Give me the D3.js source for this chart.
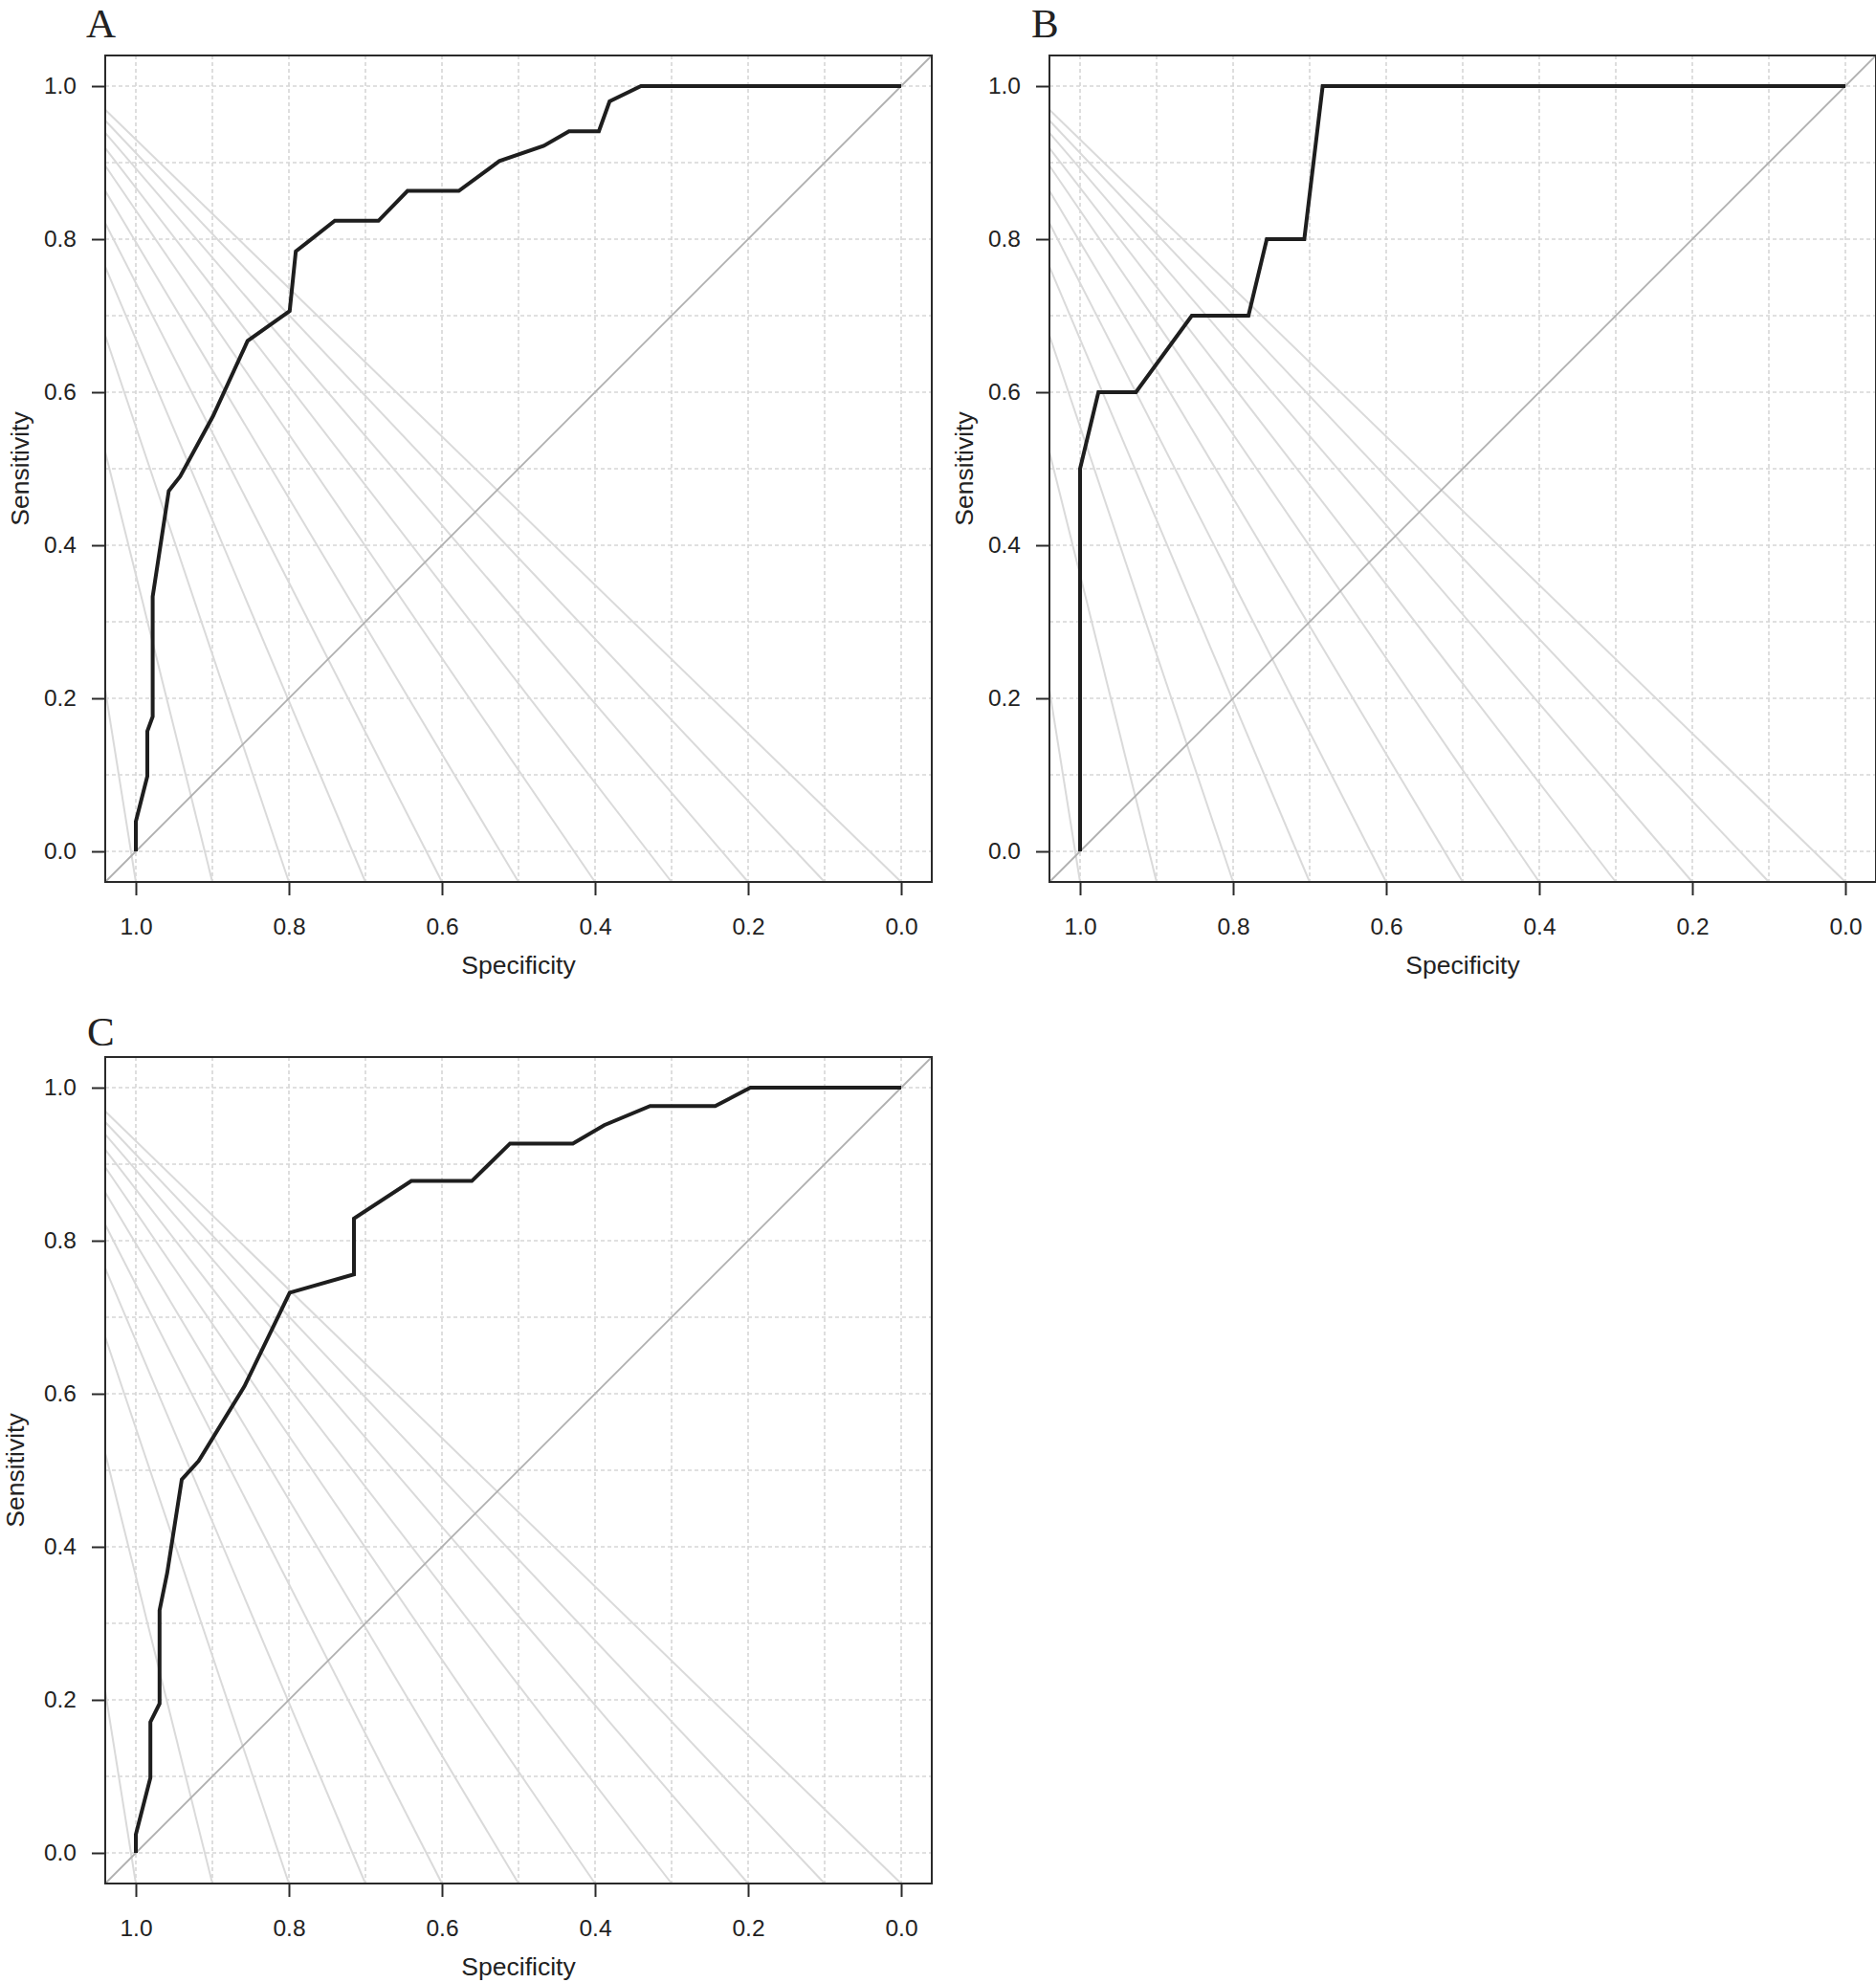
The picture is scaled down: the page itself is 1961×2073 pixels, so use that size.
<!DOCTYPE html>
<html>
<head>
<meta charset="utf-8">
<script src="https://cdnjs.cloudflare.com/ajax/libs/d3/7.8.5/d3.min.js"></script>
<style>
body { margin: 0; background: #fff; }
text { font-family: "Liberation Sans", Arial, sans-serif; fill: #222; }
</style>
</head>
<body>
<script>
// page + plot setup
var width = 1961;
var height = 2073;
var plotSize = 864;

// ROC curve A (specificity, sensitivity)
var specA = [1.0, 1.0, 0.985, 0.985, 0.978, 0.978, 0.957, 0.942, 0.899, 0.854, 0.799, 0.791, 0.740, 0.683, 0.645, 0.578, 0.525, 0.467, 0.434, 0.395, 0.381, 0.340, 0.0];
var sensA = [0.0, 0.039, 0.098, 0.157, 0.176, 0.333, 0.471, 0.490, 0.569, 0.667, 0.706, 0.784, 0.824, 0.824, 0.863, 0.863, 0.902, 0.922, 0.941, 0.941, 0.980, 1.0, 1.0];

// ROC curve B
var specB = [1.0, 1.0, 0.976, 0.927, 0.854, 0.780, 0.756, 0.707, 0.683, 0.0];
var sensB = [0.0, 0.5, 0.6, 0.6, 0.7, 0.7, 0.8, 0.8, 1.0, 1.0];

// ROC curve C
var specC = [1.0, 1.0, 0.981, 0.981, 0.969, 0.969, 0.959, 0.940, 0.918, 0.858, 0.799, 0.715, 0.715, 0.640, 0.561, 0.511, 0.429, 0.388, 0.328, 0.243, 0.197, 0.0];
var sensC = [0.0, 0.024, 0.098, 0.171, 0.195, 0.317, 0.366, 0.488, 0.512, 0.610, 0.732, 0.756, 0.829, 0.878, 0.878, 0.927, 0.927, 0.951, 0.976, 0.976, 1.0, 1.0];

// grey fan lines: start on left border (sensitivity), end on bottom border (specificity)
var isoSpecEnd = [1.0, 0.9, 0.8, 0.7, 0.6, 0.5, 0.4, 0.3, 0.2, 0.1, 0.0];
var isoSensStart = [0.211, 0.522, 0.674, 0.764, 0.821, 0.863, 0.896, 0.919, 0.939, 0.955, 0.969];

var tickValues = [0.0, 0.2, 0.4, 0.6, 0.8, 1.0];
var gridValues = [0.0, 0.1, 0.2, 0.3, 0.4, 0.5, 0.6, 0.7, 0.8, 0.9, 1.0];

var panels = [
  {letter: 'A', left: 110, top: 58, spec: specA, sens: sensA, letterX: -20, letterY: -19, ylabX: -80},
  {letter: 'B', left: 1097, top: 58, spec: specB, sens: sensB, letterX: -19, letterY: -19, ylabX: -80},
  {letter: 'C', left: 110, top: 1105, spec: specC, sens: sensC, letterX: -19, letterY: -12, ylabX: -85}
];

var svg = d3.select("body")
  .append("svg")
  .attr("width", width)
  .attr("height", height);

svg.append("rect").attr("width", width).attr("height", height).attr("fill", "#fff");

// specificity runs backwards, R pads 4% each side
var x = d3.scaleLinear().domain([1.04, -0.04]).range([0, plotSize]);
var y = d3.scaleLinear().domain([-0.04, 1.04]).range([plotSize, 0]);

function drawPanel(p) {
  var g = svg.append("g").attr("transform", "translate(" + p.left + "," + p.top + ")");

  // dashed grid
  g.selectAll(".vgrid").data(gridValues).enter().append("line")
    .attr("x1", d => x(d)).attr("x2", d => x(d))
    .attr("y1", 0).attr("y2", plotSize)
    .attr("stroke", "#d6d6d6").attr("stroke-width", 1.6)
    .attr("stroke-dasharray", "4,3");
  g.selectAll(".hgrid").data(gridValues).enter().append("line")
    .attr("y1", d => y(d)).attr("y2", d => y(d))
    .attr("x1", 0).attr("x2", plotSize)
    .attr("stroke", "#d6d6d6").attr("stroke-width", 1.6)
    .attr("stroke-dasharray", "4,3");

  // fan lines
  g.selectAll(".iso").data(isoSpecEnd).enter().append("line")
    .attr("x1", x(1.04)).attr("y1", (d, i) => y(isoSensStart[i]))
    .attr("x2", d => x(d)).attr("y2", y(-0.04))
    .attr("stroke", "#dadada").attr("stroke-width", 2);

  // chance diagonal, corner to corner
  g.append("line")
    .attr("x1", x(1.04)).attr("y1", y(-0.04))
    .attr("x2", x(-0.04)).attr("y2", y(1.04))
    .attr("stroke", "#b0b0b0").attr("stroke-width", 1.8);

  // roc curve
  var pts = p.spec.map((s, i) => [s, p.sens[i]]);
  g.append("path")
    .datum(pts)
    .attr("fill", "none")
    .attr("stroke", "#1e1e1e")
    .attr("stroke-width", 4)
    .attr("stroke-linejoin", "miter")
    .attr("d", d3.line().x(d => x(d[0])).y(d => y(d[1])));

  // box
  g.append("rect")
    .attr("width", plotSize).attr("height", plotSize)
    .attr("fill", "none").attr("stroke", "#2a2a2a").attr("stroke-width", 2);

  // axes
  var xAxis = g.append("g")
    .attr("transform", "translate(0," + plotSize + ")")
    .call(d3.axisBottom(x).tickValues(tickValues).tickSize(14).tickPadding(24).tickFormat(d3.format(".1f")));
  var yAxis = g.append("g")
    .call(d3.axisLeft(y).tickValues(tickValues).tickSize(14).tickPadding(16).tickFormat(d3.format(".1f")));
  [xAxis, yAxis].forEach(function(a) {
    a.select(".domain").remove();
    a.selectAll("line").attr("stroke", "#2a2a2a").attr("stroke-width", 2);
    a.selectAll("text").attr("font-size", 24.5).attr("fill", "#222")
      .style("font-family", "'Liberation Sans', Arial, sans-serif");
  });

  // axis titles
  g.append("text")
    .attr("x", plotSize / 2).attr("y", plotSize + 96)
    .attr("text-anchor", "middle").attr("font-size", 26.5)
    .text("Specificity");
  g.append("text")
    .attr("transform", "translate(" + p.ylabX + "," + (plotSize / 2) + ") rotate(-90)")
    .attr("text-anchor", "middle").attr("font-size", 26.5)
    .text("Sensitivity");

  // panel letter
  g.append("text")
    .attr("x", p.letterX).attr("y", p.letterY)
    .attr("font-size", 43)
    .style("font-family", "'Liberation Serif', 'Times New Roman', serif")
    .attr("fill", "#1a1a1a")
    .text(p.letter);
}

panels.forEach(drawPanel);
</script>
</body>
</html>
